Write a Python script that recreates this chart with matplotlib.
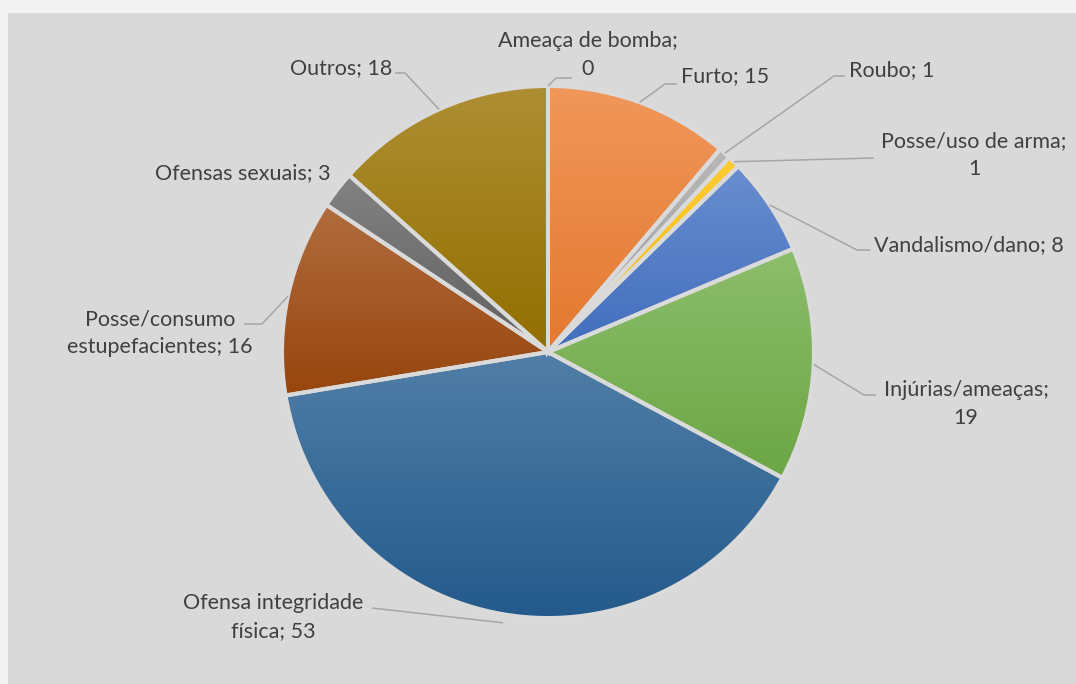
import numpy as np
import matplotlib
matplotlib.use("Agg")
import matplotlib.pyplot as plt
from matplotlib.colors import to_rgb, LinearSegmentedColormap
from matplotlib.patches import Rectangle

# dados das ocorrências
categorias = ["Ameaça de bomba", "Furto", "Roubo", "Posse/uso de arma",
              "Vandalismo/dano", "Injúrias/ameaças", "Ofensa integridade física",
              "Posse/consumo estupefacientes", "Ofensas sexuais", "Outros"]
valores = [0, 15, 1, 1, 8, 19, 53, 16, 3, 18]
rotulos = ["Ameaça de bomba;\n0", "Furto; 15", "Roubo; 1", "Posse/uso de arma;\n1",
           "Vandalismo/dano; 8", "Injúrias/ameaças;\n19", "Ofensa integridade\nfísica; 53",
           "Posse/consumo\nestupefacientes; 16", "Ofensas sexuais; 3", "Outros; 18"]

cores = ["#5B9BD5", "#ED7D31", "#A5A5A5", "#FFC000", "#4472C4", "#70AD47",
         "#255E91", "#9E480E", "#636363", "#997300"]
destaque = [0, 0, 0, 0, 0, 0, 0.032, 0, 0, 0]

W, H = 1076, 684
cx, cy, R = 548, H - 352, 266

# posição do texto (px, topo=0), alinhamento, pontos do conector (cotovelo, fim)
layout = [
    ((588, 55), "center", [(556, 78), (572, 78)]),
    ((681, 76), "left", [(665, 84), (677, 84)]),
    ((849, 70), "left", [(834, 76), (845, 76)]),
    ((974, 155), "center", [(874, 158)]),
    ((874, 245), "left", [(857, 250), (870, 250)]),
    ((966, 404), "center", [(864, 395), (876, 395)]),
    ((273, 617), "center", [(372, 608)]),
    ((160, 333), "center", [(262, 324), (244, 324)]),
    ((331, 173), "right", []),
    ((392, 68), "right", [(405, 73), (395, 73)]),
]

fig = plt.figure(figsize=(W / 100, H / 100), dpi=100, facecolor="#f2f2f2")
ax = fig.add_axes([0, 0, 1, 1])
ax.add_patch(Rectangle((8, 0), W - 8, H - 13, facecolor="#d9d9d9", edgecolor="none", zorder=0))

wedges, _ = ax.pie(valores, colors=cores, startangle=90, counterclock=False,
                   radius=R, center=(cx, cy), explode=destaque, frame=True,
                   wedgeprops=dict(edgecolor="#dadada", linewidth=2.9))
ax.set_xlim(0, W)
ax.set_ylim(0, H)
ax.axis("off")


def mistura(c, alvo, t):
    c, alvo = np.array(to_rgb(c)), np.array(to_rgb(alvo))
    return tuple(c * (1 - t) + alvo * t)


# gradiente vertical dentro de cada fatia
for w, cor in zip(wedges, cores):
    verts = ax.transData.inverted().transform(w.get_verts())
    x0, y0 = verts.min(axis=0)
    x1, y1 = verts.max(axis=0)
    if x1 - x0 < 1e-6:
        continue
    cmap = LinearSegmentedColormap.from_list("g", [mistura(cor, "black", 0.04),
                                                   mistura(cor, "#ffffff", 0.2)])
    grad = np.linspace(0, 1, 256).reshape(-1, 1)
    im = ax.imshow(grad, cmap=cmap, extent=(x0, x1, y0, y1), origin="lower",
                   aspect="auto", zorder=1.5, interpolation="bilinear")
    im.set_clip_path(w)
    w.set_facecolor("none")
    w.set_zorder(2)

ax.set_xlim(0, W)
ax.set_ylim(0, H)

# rótulos com conectores
total = sum(valores)
acum = 0
for i, v in enumerate(valores):
    meio = (acum + v / 2) / total * 2 * np.pi
    acum += v
    desl = destaque[i] * R
    px = cx + (R + desl) * np.sin(meio)
    py = cy + (R + desl) * np.cos(meio)
    (tx, ty), ha, pontos = layout[i]
    if pontos:
        xs = [px] + [p[0] for p in pontos]
        ys = [py] + [H - p[1] for p in pontos]
        ax.plot(xs, ys, color="#a6a6a6", lw=1.1, zorder=3, solid_capstyle="butt")
    ax.text(tx, H - ty, rotulos[i], ha=ha, va="center", multialignment="center",
            fontsize=15.5, family="Lato", color="#404040", linespacing=1.5, zorder=4)

fig.savefig("out.png", dpi=100, facecolor=fig.get_facecolor())
